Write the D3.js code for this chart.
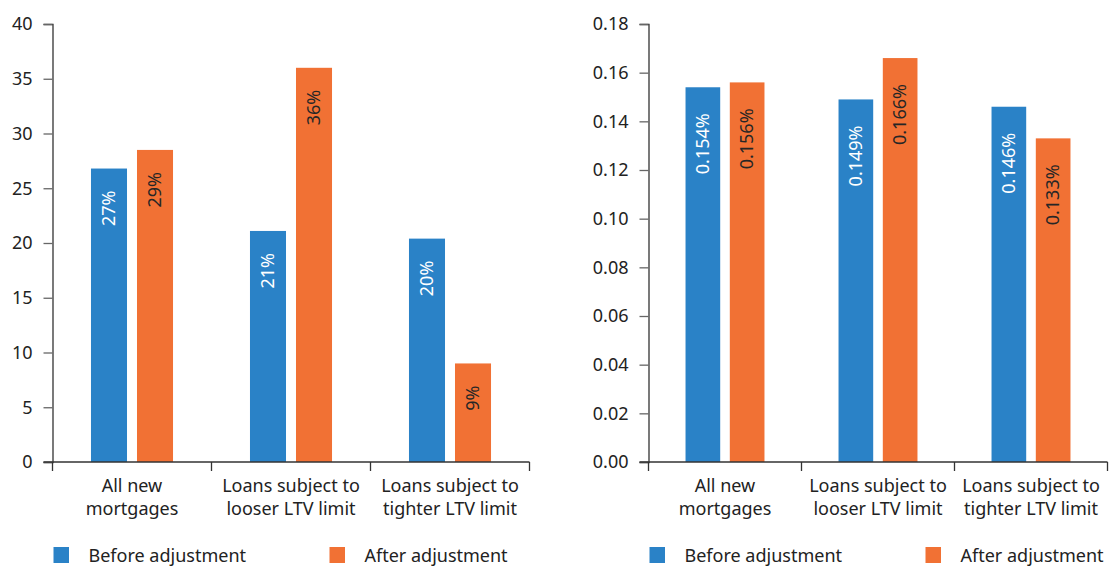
<!DOCTYPE html>
<html>
<head>
<meta charset="utf-8">
<script src="https://cdn.jsdelivr.net/npm/d3@7"></script>
<style>
  html, body { margin: 0; padding: 0; background: #fff; }
  svg { display: block; font-family: "Noto Sans", "Open Sans", sans-serif; }
</style>
</head>
<body>
<svg id="chart" width="1110" height="567"></svg>
<script>
// Categories (two-line labels)
const categories = [
  ["All new", "mortgages"],
  ["Loans subject to", "looser LTV limit"],
  ["Loans subject to", "tighter LTV limit"]
];
const seriesNames = ["Before adjustment", "After adjustment"];
const seriesColors = ["#2a82c7", "#f17134"];
const labelColors = ["#ffffff", "#262626"];

// Left panel: share of loans (per cent)
const leftBefore = [26.8, 21.1, 20.4];
const leftAfter = [28.5, 36.0, 9.0];
const leftTicks = [0, 5, 10, 15, 20, 25, 30, 35, 40];

// Right panel: rate (per cent)
const rightBefore = [0.154, 0.149, 0.146];
const rightAfter = [0.156, 0.166, 0.133];
const rightTicks = [0, 0.02, 0.04, 0.06, 0.08, 0.10, 0.12, 0.14, 0.16, 0.18];

const svg = d3.select("#chart");

function drawPanel(opts) {
  const { x0, x1, yTop, yBottom, before, after, ticks, yMax, tickFmt, labelFmt, labelOffset } = opts;
  const g = svg.append("g");

  const x = d3.scaleBand().domain(d3.range(categories.length)).range([x0, x1]).padding(0);
  const bw = x.bandwidth();
  const xs = d3.scaleBand().domain([0, 1]).range([bw * 0.242, bw * 0.758]).paddingInner(0.217);
  const y = d3.scaleLinear().domain([0, yMax]).range([yBottom, yTop]);

  const rows = categories.map((c, i) => ({ i, vals: [before[i], after[i]] }));

  // Bars
  const groups = g.selectAll("g.grp").data(rows).join("g")
    .attr("class", "grp")
    .attr("transform", d => `translate(${x(d.i)},0)`);

  groups.selectAll("rect").data(d => d.vals.map((v, s) => ({ v, s }))).join("rect")
    .attr("x", d => xs(d.s))
    .attr("y", d => y(d.v))
    .attr("width", xs.bandwidth())
    .attr("height", d => y(0) - y(d.v))
    .attr("fill", d => seriesColors[d.s]);

  // Rotated value labels inside bars
  groups.selectAll("text.val").data(d => d.vals.map((v, s) => ({ v, s }))).join("text")
    .attr("class", "val")
    .attr("transform", d => `translate(${xs(d.s) + xs.bandwidth() / 2},${y(d.v) + labelOffset}) rotate(-90)`)
    .attr("text-anchor", "end")
    .attr("dy", "0.35em")
    .attr("font-size", 18)
    .attr("fill", d => labelColors[d.s])
    .text(d => labelFmt(d.v));

  // Y axis
  const yAxis = d3.axisLeft(y).tickValues(ticks).tickFormat(tickFmt).tickSize(9).tickPadding(11);
  const ya = g.append("g").attr("transform", `translate(${x0},0)`).call(yAxis);
  ya.select(".domain").attr("stroke", "#333").attr("stroke-width", 1.3);
  ya.selectAll(".tick line").attr("stroke", "#666").attr("stroke-width", 1.3);
  ya.selectAll(".tick text").attr("font-size", 18).attr("fill", "#222")
    .attr("font-family", "Noto Sans, sans-serif");

  // X axis: baseline with category boundary ticks
  g.append("line")
    .attr("x1", x0 - 9).attr("x2", x1)
    .attr("y1", y(0)).attr("y2", y(0))
    .attr("stroke", "#333").attr("stroke-width", 1.3);
  const bounds = d3.range(categories.length + 1).map(i => i < categories.length ? x(i) : x1);
  g.selectAll("line.bt").data(bounds).join("line")
    .attr("class", "bt")
    .attr("x1", d => d).attr("x2", d => d)
    .attr("y1", y(0)).attr("y2", y(0) + 9)
    .attr("stroke", "#333").attr("stroke-width", 1.3);

  // Category labels
  const cl = g.selectAll("text.cat").data(rows).join("text")
    .attr("class", "cat")
    .attr("text-anchor", "middle")
    .attr("font-size", 18)
    .attr("fill", "#222");
  cl.selectAll("tspan").data(d => categories[d.i].map(t => ({ t, cx: x(d.i) + bw / 2 }))).join("tspan")
    .attr("x", d => d.cx)
    .attr("y", (d, k) => y(0) + 30 + k * 22.5)
    .text(d => d.t);

  // Legend
  const legX = [x0, x0 + 276];
  seriesNames.forEach((name, s) => {
    g.append("rect")
      .attr("x", legX[s] + 1).attr("y", 547)
      .attr("width", 15.5).attr("height", 16)
      .attr("fill", seriesColors[s]);
    g.append("text")
      .attr("x", legX[s] + 36).attr("y", 562)
      .attr("font-size", 18).attr("fill", "#222")
      .text(name);
  });
}

drawPanel({
  x0: 52.5, x1: 529.5, yTop: 24, yBottom: 462,
  before: leftBefore, after: leftAfter, ticks: leftTicks, yMax: 40,
  tickFmt: d3.format("d"),
  labelFmt: v => d3.format(".0f")(v) + "%",
  labelOffset: 22
});

drawPanel({
  x0: 648.5, x1: 1107.5, yTop: 24, yBottom: 462,
  before: rightBefore, after: rightAfter, ticks: rightTicks, yMax: 0.18,
  tickFmt: d3.format(".2f"),
  labelFmt: v => d3.format(".3f")(v) + "%",
  labelOffset: 26
});
</script>
</body>
</html>
